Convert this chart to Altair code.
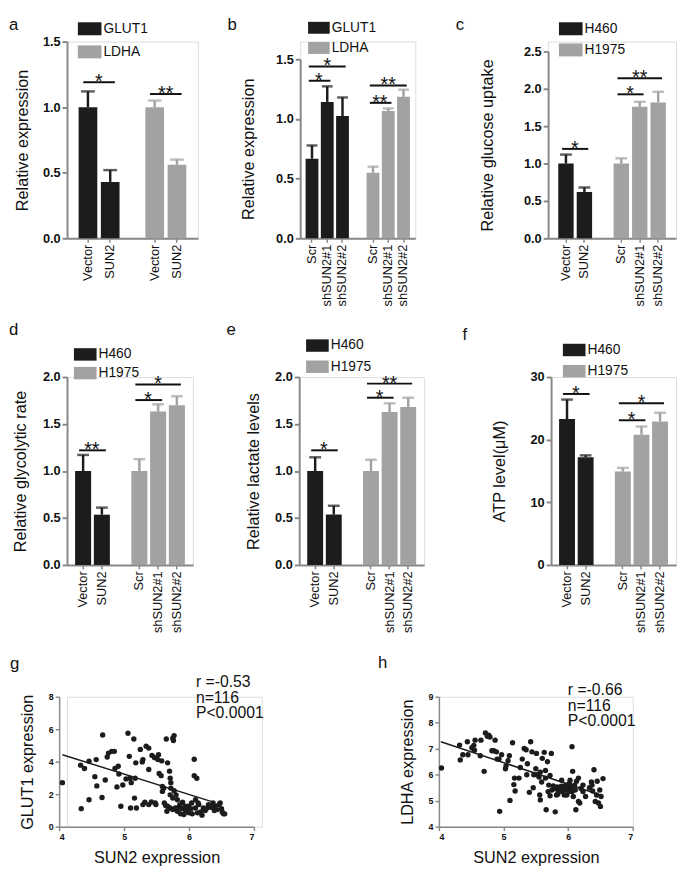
import altair as alt
import pandas as pd

DARK = "#1c1c1c"
GRAY = "#a2a2a2"
INK = "#111111"
FONT = "Liberation Sans"
RECT = "M-1,-0.55L1,-0.55L1,0.55L-1,0.55Z"

# ---------------- data ----------------
a_series = ["GLUT1", "GLUT1", "LDHA", "LDHA"]
a_cond = ["Vector", "SUN2", "Vector", "SUN2"]
a_mean = [1.00, 0.43, 1.00, 0.56]
a_err = [0.12, 0.09, 0.05, 0.04]
a_sig_from = ["GLUT1|Vector", "LDHA|Vector"]
a_sig_to = ["GLUT1|SUN2", "LDHA|SUN2"]
a_sig_y = [1.19, 1.10]
a_sig_text = ["*", "**"]

b_series = ["GLUT1", "GLUT1", "GLUT1", "LDHA", "LDHA", "LDHA"]
b_cond = ["Scr", "shSUN2#1", "shSUN2#2", "Scr", "shSUN2#1", "shSUN2#2"]
b_mean = [0.667, 1.143, 1.025, 0.55, 1.066, 1.185]
b_err = [0.11, 0.13, 0.155, 0.05, 0.022, 0.06]
b_sig_from = ["GLUT1|Scr", "GLUT1|Scr", "LDHA|Scr", "LDHA|Scr"]
b_sig_to = ["GLUT1|shSUN2#2", "GLUT1|shSUN2#1", "LDHA|shSUN2#2", "LDHA|shSUN2#1"]
b_sig_y = [1.44, 1.32, 1.28, 1.135]
b_sig_text = ["*", "*", "**", "**"]

cell_series = ["H460", "H460", "H1975", "H1975", "H1975"]
cell_cond = ["Vector", "SUN2", "Scr", "shSUN2#1", "shSUN2#2"]
cell_sig_from = ["H460|Vector", "H1975|Scr", "H1975|Scr"]
cell_sig_to = ["H460|SUN2", "H1975|shSUN2#1", "H1975|shSUN2#2"]

c_mean = [1.00, 0.62, 1.00, 1.76, 1.817]
c_err = [0.12, 0.06, 0.07, 0.066, 0.143]
c_sig_y = [1.196, 1.926, 2.14]
c_sig_text = ["*", "*", "**"]

d_mean = [1.00, 0.535, 1.00, 1.632, 1.70]
d_err = [0.171, 0.075, 0.126, 0.078, 0.095]
d_sig_y = [1.22, 1.755, 1.92]
d_sig_text = ["**", "*", "*"]

e_mean = [1.00, 0.537, 1.00, 1.627, 1.68]
e_err = [0.146, 0.093, 0.12, 0.093, 0.10]
e_sig_y = [1.22, 1.78, 1.93]
e_sig_text = ["*", "*", "**"]

f_mean = [23.3, 17.2, 14.9, 20.8, 22.9]
f_err = [3.1, 0.3, 0.6, 1.3, 1.4]
f_sig_y = [27.3, 23.1, 25.8]
f_sig_text = ["*", "*", "*"]

g_x = [4.05, 4.34, 4.33, 4.39, 4.46, 4.46, 4.55, 4.57, 4.58, 4.66,
       4.67, 4.71, 4.74, 4.76, 4.81, 4.85, 4.86, 4.89, 4.91, 4.92,
       4.95, 4.98, 5.06, 5.08, 5.09, 5.10, 5.11, 5.15, 5.17, 5.18,
       5.16, 5.19, 5.03, 5.25, 5.28, 5.29, 5.34, 5.38, 5.38, 5.38,
       5.42, 5.43, 5.47, 5.48, 5.49, 5.52, 5.53, 5.54, 5.57, 5.58,
       5.59, 5.61, 5.65, 5.67, 5.64, 5.70, 5.71, 5.72, 5.75, 5.77,
       5.76, 5.72, 5.71, 5.75, 5.77, 5.80, 5.82, 5.67, 5.71, 5.75,
       5.79, 5.82, 5.86, 5.89, 5.90, 5.94, 5.95, 5.96, 5.99, 6.00,
       6.03, 6.04, 6.05, 6.08, 6.08, 6.12, 6.10, 6.10, 6.13, 6.15,
       6.18, 6.20, 6.22, 6.25, 6.30, 6.34, 6.37, 6.40, 6.43, 6.46,
       6.48, 6.50, 6.51, 6.53, 6.55, 5.62, 5.59, 5.29, 5.32, 5.66,
       5.87, 5.92, 6.14, 6.28, 6.39, 5.84]
g_y = [2.71, 1.11, 3.79, 3.58, 1.66, 4.03, 3.08, 4.13, 2.51, 1.80,
       5.65, 2.87, 4.29, 4.53, 4.64, 4.64, 3.58, 2.45, 3.72, 3.24,
       1.26, 2.57, 5.75, 4.33, 2.98, 1.15, 2.71, 5.40, 2.98, 3.93,
       1.76, 1.15, 2.94, 4.76, 3.99, 4.13, 4.96, 4.84, 3.52, 1.36,
       1.52, 4.39, 4.25, 1.46, 1.36, 4.13, 4.43, 3.28, 3.14, 4.05,
       2.47, 2.37, 5.40, 3.93, 1.30, 3.42, 2.98, 2.71, 5.45, 5.61,
       5.30, 2.37, 1.96, 1.76, 2.21, 1.96, 1.66, 1.26, 1.15, 1.05,
       1.15, 0.95, 1.36, 1.11, 1.50, 1.26, 0.91, 1.05, 1.26, 0.85,
       1.11, 1.46, 0.79, 4.15, 3.14, 2.98, 1.66, 1.15, 0.85, 1.36,
       0.91, 0.71, 1.15, 0.99, 1.36, 1.19, 1.46, 1.26, 1.05, 1.36,
       1.46, 1.11, 0.91, 0.79, 0.79, 1.46, 2.17, 1.36, 1.50, 0.95,
       0.79, 0.75, 1.46, 1.15, 0.99, 1.19]
g_fit_x = [4.05, 6.40]
g_fit_y = [4.43, 1.48]
g_stats = ["r =-0.53", "n=116", "P<0.0001"]

h_x = [4.04, 4.32, 4.33, 4.37, 4.44, 4.45, 4.51, 4.54, 4.56, 4.55,
       4.65, 4.64, 4.70, 4.72, 4.75, 4.77, 4.79, 4.82, 4.85, 4.87,
       4.89, 4.90, 4.93, 4.94, 4.97, 5.03, 5.04, 5.07, 5.09, 5.10,
       5.14, 5.16, 5.17, 5.18, 5.24, 5.26, 5.29, 5.32, 5.35, 5.36,
       5.37, 5.40, 5.42, 5.44, 5.46, 5.47, 5.50, 5.51, 5.52, 5.55,
       5.56, 5.57, 5.59, 5.60, 5.63, 5.65, 5.66, 5.68, 5.69, 5.70,
       5.72, 5.74, 5.75, 5.77, 5.79, 5.80, 5.82, 5.83, 5.85, 5.88,
       5.90, 5.91, 5.93, 5.95, 5.97, 5.98, 6.00, 6.02, 6.03, 6.05,
       6.06, 6.07, 6.08, 6.10, 6.12, 6.13, 6.16, 6.16, 6.18, 6.20,
       6.23, 6.27, 6.33, 6.36, 6.37, 6.38, 6.40, 6.42, 6.44, 6.45,
       6.47, 6.49, 6.50, 6.51, 6.54, 5.65, 5.72, 5.84, 5.94, 6.02,
       6.11, 5.57, 5.85, 5.90, 6.06, 6.23]
h_y = [6.26, 7.14, 6.57, 6.77, 7.27, 6.77, 7.04, 7.13, 7.33, 6.94,
       7.33, 6.73, 6.13, 7.61, 7.48, 7.52, 7.45, 6.92, 6.92, 7.33,
       6.88, 6.60, 6.60, 4.59, 6.77, 6.23, 6.35, 6.54, 6.73, 5.01,
       7.23, 5.62, 5.87, 5.37, 5.87, 6.28, 6.60, 7.01, 6.96, 6.00,
       6.42, 5.32, 7.27, 6.88, 5.50, 6.00, 6.23, 6.82, 6.00, 5.91,
       5.22, 5.03, 5.72, 6.63, 6.86, 5.87, 4.65, 6.50, 5.35, 5.60,
       5.19, 6.82, 5.41, 5.57, 5.47, 4.57, 5.22, 5.53, 5.45, 5.53,
       5.79, 5.35, 5.50, 5.41, 5.60, 5.22, 5.50, 5.66, 5.79, 5.47,
       7.08, 6.13, 5.16, 5.60, 4.65, 5.75, 5.87, 4.97, 4.91, 5.47,
       5.35, 5.16, 5.50, 5.72, 5.60, 5.37, 6.19, 4.97, 5.22, 5.75,
       4.91, 5.41, 4.78, 5.16, 5.85, 6.16, 5.97, 5.25, 5.22, 5.35,
       5.41, 6.10, 5.35, 5.56, 5.35, 5.60]
h_fit_x = [4.03, 6.50]
h_fit_y = [7.27, 5.22]
h_stats = ["r =-0.66", "n=116", "P<0.0001"]


def letter_mark(letter, lx, ly):
    return alt.Chart(pd.DataFrame({"t": [letter]})).mark_text(
        align="left", baseline="top", fontSize=17, font=FONT, color=INK).encode(
        text="t:N", x=alt.value(lx), y=alt.value(ly))


def bar_panel(letter, series, cond, mean, err, sfrom, sto, sy, stext,
              names, ymax, yvals, yfmt, ytitle, W, H, ytop, pin, pout,
              lxy, tpad, lx, ly, lsize, lrow, cap):
    keys = [s + "|" + c for s, c in zip(series, cond)]
    first = [k for k, s in zip(keys, series) if s == names[0]]
    second = [k for k, s in zip(keys, series) if s == names[1]]
    domain = first + ["gap"] + second
    arr = "[" + ",".join("'" + k + "'" for k in domain) + "]"

    df = pd.DataFrame({"key": keys, "series": series, "mean": mean, "err": err})
    sig = pd.DataFrame({"from": sfrom, "to": sto, "y": sy, "label": stext})

    xscale = alt.Scale(domain=domain, paddingInner=pin, paddingOuter=pout)
    xaxis = alt.Axis(values=first + second, labelExpr="split(datum.label, '|')[1]",
                     labelAngle=-90, labelFontSize=13, labelFont=FONT,
                     labelColor=INK, tickSize=4, tickWidth=1.5, domainWidth=2,
                     labelPadding=2, title=None, grid=False)
    if ytop:
        yscale = alt.Scale(domain=[0, ymax], nice=False, zero=True, range=[H, ytop])
    else:
        yscale = alt.Scale(domain=[0, ymax], nice=False, zero=True)
    yaxis = alt.Axis(values=yvals, format=yfmt, labelFontWeight="bold",
                     labelFontSize=13, labelFont=FONT, labelColor=INK,
                     titleFontSize=16.5, titleFontWeight="normal", titleFont=FONT,
                     titleColor=INK, titlePadding=tpad, tickSize=5, tickWidth=2,
                     domainWidth=2, labelPadding=2, grid=False)

    def X(field, bp=None):
        if bp is None:
            return alt.X(field, scale=xscale, axis=xaxis, title=None)
        return alt.X(field, scale=xscale, axis=xaxis, title=None, bandPosition=bp)

    def Y(field):
        return alt.Y(field, scale=yscale, axis=yaxis, title=ytitle)

    cscale = alt.Scale(domain=names, range=[DARK, GRAY])
    legend = alt.Legend(orient="none", legendX=lx, legendY=ly, title=None,
                        direction="vertical", symbolType=RECT, symbolSize=lsize,
                        symbolStrokeWidth=0, symbolOpacity=1, labelFontSize=14,
                        labelFont=FONT, labelColor=INK, labelOffset=2,
                        rowPadding=lrow, padding=0)

    base = alt.Chart(df)
    bars = base.mark_bar().encode(
        x=X("key:N"), y=Y("mean:Q"),
        color=alt.Color("series:N", scale=cscale, legend=legend))
    errs = base.transform_calculate(hi="datum.mean + datum.err").mark_rule(strokeWidth=2.5).encode(
        x=X("key:N"), y=Y("mean:Q"), y2="hi:Q",
        color=alt.Color("series:N", scale=cscale, legend=None))
    caps = base.transform_calculate(hi="datum.mean + datum.err").mark_tick(
        thickness=2.5, size=cap).encode(
        x=X("key:N"), y=Y("hi:Q"),
        color=alt.Color("series:N", scale=cscale, legend=None))

    sbase = alt.Chart(sig).transform_calculate(
        span="indexof(" + arr + ", datum.to) - indexof(" + arr + ", datum.from)",
        mid=arr + "[indexof(" + arr + ", datum.from) + 1]")
    lines = sbase.mark_rule(strokeWidth=2, color=INK).encode(
        x=X("from:N", 0.25), x2=alt.X2("to:N", bandPosition=0.75), y=Y("y:Q"))
    star_kw = dict(fontSize=20, font=FONT, color=INK, baseline="alphabetic", dy=6)
    stars1 = sbase.transform_filter("datum.span == 1").mark_text(dx=-2, **star_kw).encode(
        x=X("mid:N", 0.0), y=Y("y:Q"), text="label:N")
    stars2 = sbase.transform_filter("datum.span == 2").mark_text(**star_kw).encode(
        x=X("mid:N", 0.5), y=Y("y:Q"), text="label:N")

    return alt.layer(bars, errs, caps, lines, stars1, stars2,
                     letter_mark(letter, lxy[0], lxy[1])).properties(width=W, height=H)


def scatter_panel(letter, xs, ys, fx, fy, stats, ydom, yvals, ytitle, W, H,
                  lxy, tx, ty, tpad, shift):
    pts = pd.DataFrame({"x": xs, "y": ys})
    fit = pd.DataFrame({"x": fx, "y": fy})
    txt = pd.DataFrame({"t": ["\n".join(stats)]})
    if shift:
        xscale = alt.Scale(domain=[4, 7], nice=False, zero=False, range=[-shift, W - shift])
    else:
        xscale = alt.Scale(domain=[4, 7], nice=False, zero=False)
    yscale = alt.Scale(domain=ydom, nice=False, zero=False)
    xaxis = alt.Axis(values=[4, 5, 6, 7], format="d", labelFontWeight="bold",
                     labelFontSize=9, labelFont=FONT, labelColor=INK,
                     title="SUN2 expression", titleFontSize=16.5, titleFontWeight="normal",
                     titleFont=FONT, titleColor=INK, titlePadding=8, tickSize=4,
                     tickWidth=1.5, domainWidth=1.5, labelPadding=2, grid=False)
    yaxis = alt.Axis(values=yvals, format="d", labelFontWeight="bold",
                     labelFontSize=9, labelFont=FONT, labelColor=INK,
                     title=ytitle, titleFontSize=16.5, titleFontWeight="normal",
                     titleFont=FONT, titleColor=INK, titlePadding=tpad, tickSize=4,
                     tickWidth=1.5, domainWidth=1.5, labelPadding=2, grid=False,
                     offset=shift)
    X = alt.X("x:Q", scale=xscale, axis=xaxis)
    Y = alt.Y("y:Q", scale=yscale, axis=yaxis)
    p = alt.Chart(pts).mark_circle(size=30, color=DARK, opacity=1).encode(x=X, y=Y)
    l = alt.Chart(fit).mark_line(color=DARK, strokeWidth=1.5).encode(x=X, y=Y)
    t = alt.Chart(txt).mark_text(align="left", baseline="top", lineBreak="\n",
                                 lineHeight=16, fontSize=16, font=FONT, color=INK).encode(
        text="t:N", x=alt.value(tx), y=alt.value(ty))
    return alt.layer(p, l, t, letter_mark(letter, lxy[0], lxy[1])).properties(width=W, height=H)


names_ab = ["GLUT1", "LDHA"]
names_cf = ["H460", "H1975"]
v15 = [0, 0.5, 1.0, 1.5]
v20 = [0, 0.5, 1.0, 1.5, 2.0]
v25 = [0, 0.5, 1.0, 1.5, 2.0, 2.5]

pa = bar_panel("a", a_series, a_cond, a_mean, a_err, a_sig_from, a_sig_to, a_sig_y, a_sig_text,
               names_ab, 1.5, v15, ".1f", "Relative expression", 133, 200, 0, 0.16, 0.52,
               (-59, -25), 12, 11, -25, 576, 4.5, 14)
pb = bar_panel("b", b_series, b_cond, b_mean, b_err, b_sig_from, b_sig_to, b_sig_y, b_sig_text,
               names_ab, 1.5, v15, ".1f", "Relative expression", 117, 200, 18, 0.16, 0.354,
               (-74, -25), 19, 8, -25, 484, 2.5, 11)
pc = bar_panel("c", cell_series, cell_cond, c_mean, c_err, cell_sig_from, cell_sig_to, c_sig_y,
               c_sig_text, names_cf, 2.5, v25, ".1f", "Relative glucose uptake", 130, 200, 10,
               0.166, 0.55, (-94, -25), 28, 11, -25, 576, 2.5, 12)
pd_ = bar_panel("d", cell_series, cell_cond, d_mean, d_err, cell_sig_from, cell_sig_to, d_sig_y,
                d_sig_text, names_cf, 2.0, v20, ".1f", "Relative glycolytic rate", 128, 191, 0,
                0.145, 0.43, (-59, -56), 14, 7, -34.5, 529, -4, 12)
pe = bar_panel("e", cell_series, cell_cond, e_mean, e_err, cell_sig_from, cell_sig_to, e_sig_y,
               e_sig_text, names_cf, 2.0, v20, ".1f", "Relative lactate levels", 127, 191, 0,
               0.145, 0.43, (-74, -56), 13, 7, -43.5, 529, 2.5, 12)
pf = bar_panel("f", cell_series, cell_cond, f_mean, f_err, cell_sig_from, cell_sig_to, f_sig_y,
               f_sig_text, names_cf, 30, [0, 10, 20, 30], "d", "ATP level(μM)", 127, 191, 0,
               0.145, 0.43, (-90, -51), 23, 12, -39, 529, 2.5, 12)
pg = scatter_panel("g", g_x, g_y, g_fit_x, g_fit_y, g_stats, [0, 8], [0, 2, 4, 6, 8],
                   "GLUT1 expression", 198, 132, (-58, -41), 131, -23, 13, 8)
ph = scatter_panel("h", h_x, h_y, h_fit_x, h_fit_y, h_stats, [4, 9], [4, 5, 6, 7, 8, 9],
                   "LDHA expression", 197, 132, (-62, -42), 131, -15, 13, 0)


def hc(*charts, spacing):
    return alt.hconcat(*charts, spacing=spacing).resolve_scale(color="independent").resolve_legend(color="independent")


row1 = hc(hc(pa, pb, spacing=28), pc, spacing=39)
row2 = hc(hc(pd_, pe, spacing=32), pf, spacing=37)
row3 = hc(pg, ph, spacing=114)

top = alt.vconcat(row1, row2, spacing=13).resolve_scale(color="independent").resolve_legend(color="independent")
chart = alt.vconcat(top, row3, spacing=20).resolve_scale(
    color="independent").resolve_legend(color="independent").properties(
    padding={"left": 0, "top": 0, "right": 0, "bottom": 0}
).configure_view(stroke=None).configure_axis(
    domainColor=INK, tickColor=INK
).configure_legend(
    labelFontSize=14, labelFont=FONT, labelColor=INK, symbolType=RECT,
    symbolStrokeWidth=0, symbolOpacity=1, labelOffset=2, padding=0
).configure(font=FONT, background="white")

chart.save("out.html", embed_options={"renderer": "svg", "actions": False})
